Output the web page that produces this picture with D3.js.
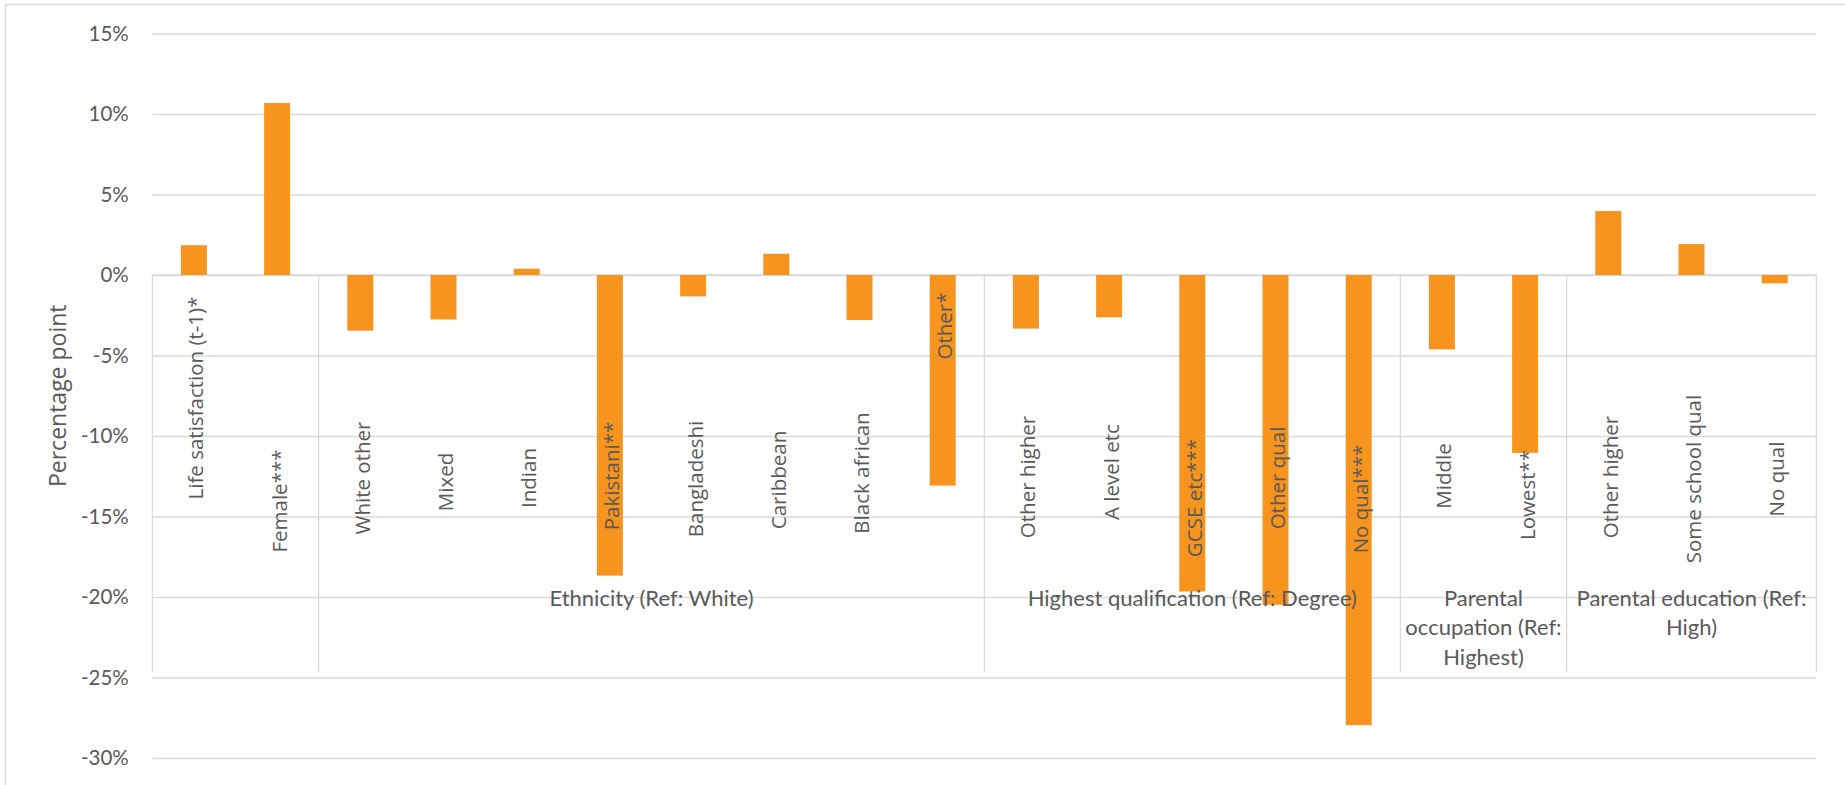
<!DOCTYPE html>
<html>
<head>
<meta charset="utf-8">
<script src="https://cdn.jsdelivr.net/npm/d3@7/dist/d3.min.js"></script>
<style>
  html, body { margin: 0; padding: 0; background: #ffffff; }
  svg { display: block; }
</style>
</head>
<body>
<svg id="chart" width="1845" height="785"></svg>
<script>
// ---------------- DATA ----------------
const categories = [
  "Life satisfaction (t-1)*", "Female***",
  "White other", "Mixed", "Indian", "Pakistani**", "Bangladeshi", "Caribbean", "Black african", "Other*",
  "Other higher", "A level etc", "GCSE etc***", "Other qual", "No qual***",
  "Middle", "Lowest**",
  "Other higher", "Some school qual", "No qual"
];
const values = [
  0.0185, 0.1068,
  -0.0346, -0.0276, 0.0039, -0.1867, -0.0133, 0.0132, -0.0280, -0.1308,
  -0.0333, -0.0263, -0.1966, -0.2048, -0.2796,
  -0.0462, -0.1105,
  0.0397, 0.0192, -0.0052
];
const groupLabels = [
  "",
  "Ethnicity (Ref: White)",
  "Highest qualification (Ref: Degree)",
  "Parental\noccupation (Ref:\nHighest)",
  "Parental education (Ref:\nHigh)"
];
const groupSizes = [2, 8, 5, 2, 3];
const tickValues = [0.15, 0.10, 0.05, 0, -0.05, -0.10, -0.15, -0.20, -0.25, -0.30];
const tickLabels = ["15%", "10%", "5%", "0%", "-5%", "-10%", "-15%", "-20%", "-25%", "-30%"];
const yTitle = "Percentage point";

// ---------------- LAYOUT ----------------
const W = 1845, H = 785;
const plotLeft = 152.3, plotRight = 1816.3, plotTop = 33.5, plotBottom = 758;
const axisBandBottom = 671.7;
const labelBaseMid = 478;
// per-label vertical shift (px) of rotated category labels, as rendered in the source
const labelShift = [-80, 23, 0, 4, 0, -2, 1, 2, -5, -152, -1, -6, 20, 0, 21, -2, 17, -1, 1, 1];
const textColor = "#595959";
const gridColor = "#d9d9d9";
const barColor = "#f7941e";

const svg = d3.select("#chart");

// chart frame
svg.append("rect")
  .attr("x", 5.5).attr("y", 4.5)
  .attr("width", W + 20).attr("height", H + 20)
  .attr("fill", "#ffffff")
  .attr("stroke", gridColor).attr("stroke-width", 1.3);

const x = d3.scaleBand()
  .domain(d3.range(categories.length))
  .range([plotLeft, plotRight])
  .paddingInner(0.6875)
  .paddingOuter(0.34375);

const y = d3.scaleLinear()
  .domain([-0.30, 0.15])
  .range([plotBottom, plotTop]);

// y axis with gridlines
const yAxis = d3.axisLeft(y)
  .tickValues(tickValues)
  .tickFormat((d, i) => tickLabels[i])
  .tickSize(-(plotRight - plotLeft))
  .tickPadding(23.5);

const gy = svg.append("g")
  .attr("transform", `translate(${plotLeft},0)`)
  .call(yAxis);
gy.select(".domain").remove();
gy.selectAll(".tick line").attr("stroke", gridColor).attr("stroke-width", 1.3);
gy.selectAll(".tick text")
  .attr("fill", textColor)
  .style("font-family", "Lato, 'Open Sans', sans-serif")
  .style("font-size", "20.5px");

// category axis line + group separators
const y0 = y(0);
svg.append("line")
  .attr("x1", plotLeft).attr("x2", plotRight)
  .attr("y1", y0).attr("y2", y0)
  .attr("stroke", gridColor).attr("stroke-width", 1.3);

const boundaries = [0];
groupSizes.forEach(s => boundaries.push(boundaries[boundaries.length - 1] + s));
svg.append("g").selectAll("line")
  .data(boundaries)
  .join("line")
  .attr("x1", k => plotLeft + k * x.step())
  .attr("x2", k => plotLeft + k * x.step())
  .attr("y1", y0).attr("y2", axisBandBottom)
  .attr("stroke", gridColor).attr("stroke-width", 1.3);

// bars
svg.append("g").selectAll("rect")
  .data(values)
  .join("rect")
  .attr("x", (d, i) => x(i))
  .attr("width", x.bandwidth())
  .attr("y", d => y(Math.max(0, d)))
  .attr("height", d => Math.abs(y(d) - y(0)))
  .attr("fill", barColor);

// rotated category labels
svg.append("g").selectAll("text")
  .data(categories)
  .join("text")
  .attr("transform", (d, i) => `translate(${x(i) + x.bandwidth() / 2 + 1.5},${labelBaseMid + labelShift[i]}) rotate(-90)`)
  .attr("text-anchor", "middle")
  .attr("dominant-baseline", "central")
  .attr("fill", textColor)
  .style("font-family", "'Open Sans', sans-serif")
  .style("font-size", "20.5px")
  .text(d => d);

// group labels
const gl = svg.append("g");
groupLabels.forEach((lab, gi) => {
  if (!lab) return;
  const cx = plotLeft + (boundaries[gi] + groupSizes[gi] / 2) * x.step();
  lab.split("\n").forEach((line, li) => {
    gl.append("text")
      .attr("x", cx)
      .attr("y", 597 + li * 29.5)
      .attr("text-anchor", "middle")
      .attr("dominant-baseline", "central")
      .attr("fill", textColor)
      .style("font-family", "Lato, 'Open Sans', sans-serif")
      .style("font-size", "22px")
      .text(line);
  });
});

// y axis title
svg.append("text")
  .attr("transform", `translate(57,${(plotTop + plotBottom) / 2}) rotate(-90)`)
  .attr("text-anchor", "middle")
  .attr("dominant-baseline", "central")
  .attr("fill", textColor)
  .style("font-family", "'Open Sans', sans-serif")
  .style("font-size", "23px")
  .text(yTitle);
</script>
</body>
</html>
